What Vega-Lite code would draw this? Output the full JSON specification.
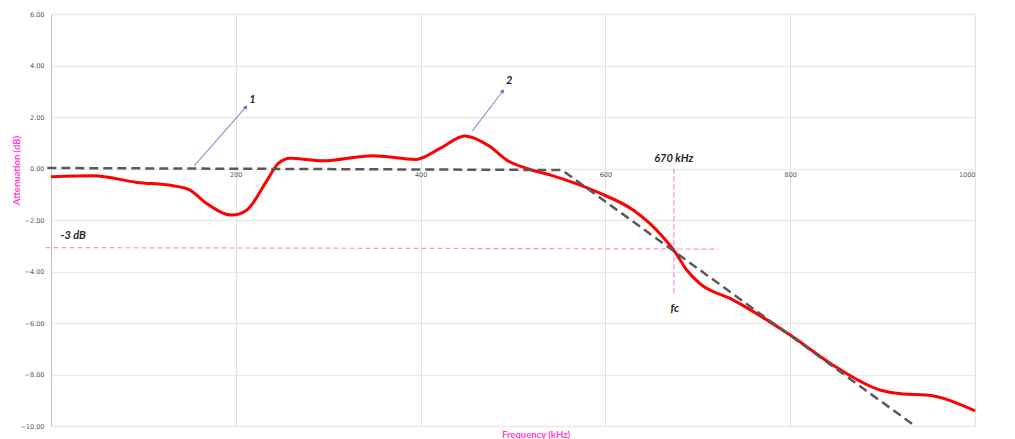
{
  "$schema": "https://vega.github.io/schema/vega-lite/v6.json",
  "width": 924,
  "height": 412,
  "autosize": {"type": "none"},
  "padding": {"left": 51, "top": 14, "right": 40, "bottom": 13},
  "background": "white",
  "config": {"view": {"stroke": null}},
  "datasets": {
    "response": [
      {"x": 0, "y": -0.32}, {"x": 46, "y": -0.28}, {"x": 93, "y": -0.54}, {"x": 132, "y": -0.67},
      {"x": 150, "y": -0.83}, {"x": 168, "y": -1.35}, {"x": 196, "y": -1.81}, {"x": 212, "y": -1.61},
      {"x": 233, "y": -0.51}, {"x": 246, "y": 0.2}, {"x": 259, "y": 0.4}, {"x": 294, "y": 0.3},
      {"x": 348, "y": 0.5}, {"x": 395, "y": 0.35}, {"x": 421, "y": 0.78}, {"x": 448, "y": 1.26},
      {"x": 475, "y": 0.85}, {"x": 493, "y": 0.33}, {"x": 515, "y": 0.0}, {"x": 540, "y": -0.25},
      {"x": 594, "y": -0.96}, {"x": 630, "y": -1.61}, {"x": 648, "y": -2.13}, {"x": 662, "y": -2.65},
      {"x": 674, "y": -3.17}, {"x": 688, "y": -3.94}, {"x": 702, "y": -4.46}, {"x": 738, "y": -5.1},
      {"x": 800, "y": -6.47}, {"x": 846, "y": -7.63}, {"x": 897, "y": -8.6},
      {"x": 920, "y": -8.75}, {"x": 948, "y": -8.8}, {"x": 1000, "y": -9.41}
    ],
    "asymptote": [{"x": -4, "y": 0.02}, {"x": 553, "y": -0.06}, {"x": 932, "y": -9.92}],
    "minus3": [{"x": -6, "y": -3.07}, {"x": 722, "y": -3.13}],
    "fcline": [{"x": 674, "y": 0}, {"x": 674, "y": -4.9}],
    "arrows": [
      {"x": 155, "y": 0.1, "x2": 211, "y2": 2.39},
      {"x": 456, "y": 1.46, "x2": 489, "y2": 3.01}
    ],
    "labels": [
      {"x": 24, "y": -2.62, "text": "-3 dB"},
      {"x": 674, "y": 0.37, "text": "670 kHz"},
      {"x": 675, "y": -5.46, "text": "fc"},
      {"x": 218, "y": 2.66, "text": "1"},
      {"x": 496, "y": 3.4, "text": "2"}
    ]
  },
  "encoding": {
    "x": {
      "field": "x", "type": "quantitative",
      "scale": {"domain": [0, 1000], "nice": false, "zero": false},
      "axis": {
        "title": "Frequency (kHz)",
        "values": [200, 400, 600, 800, 1000],
        "format": "d",
        "offset": -257.5,
        "domain": false, "ticks": false,
        "grid": true, "gridColor": "#e0e0e0", "gridWidth": 1,
        "labelFont": "DejaVu Sans", "labelFontSize": 6.5, "labelColor": "#595959", "labelPadding": 3,
        "titleFont": "Lato", "titleFontSize": 9.5, "titleFontWeight": "bold", "titleColor": "#FF3FCF",
        "titleX": 484.5, "titleY": 265.5, "titleBaseline": "middle", "titleAlign": "center"
      }
    },
    "y": {
      "field": "y", "type": "quantitative",
      "scale": {"domain": [-10, 6], "nice": false, "zero": false},
      "axis": {
        "title": "Attenuation (dB)",
        "values": [-10, -8, -6, -4, -2, 0, 2, 4, 6],
        "format": ".2f",
        "domain": true, "domainColor": "#bfbfbf", "domainWidth": 1,
        "ticks": false,
        "grid": true, "gridColor": "#ebebeb", "gridWidth": 1.5,
        "labelFont": "DejaVu Sans", "labelFontSize": 6.5, "labelColor": "#595959", "labelPadding": 7,
        "titleFont": "Lato", "titleFontSize": 9.5, "titleFontWeight": "bold", "titleColor": "#FF3FCF",
        "titleX": -35, "titleY": 156, "titleBaseline": "middle", "titleAlign": "center", "titleAngle": -90
      }
    }
  },
  "layer": [
    {
      "data": {"name": "minus3"},
      "mark": {"type": "line", "color": "#FF8FDB", "strokeWidth": 1.2, "strokeDash": [5, 3]}
    },
    {
      "data": {"name": "fcline"},
      "mark": {"type": "line", "color": "#FF8FDB", "strokeWidth": 1.2, "strokeDash": [5, 3]}
    },
    {
      "data": {"name": "response"},
      "mark": {"type": "line", "color": "#FF0000", "strokeWidth": 3, "interpolate": "monotone"}
    },
    {
      "data": {"name": "asymptote"},
      "mark": {"type": "line", "color": "#595959", "strokeWidth": 2.5, "strokeDash": [9, 5]}
    },
    {
      "data": {"name": "arrows"},
      "mark": {"type": "rule", "color": "#A887D8", "strokeWidth": 1.2},
      "encoding": {"x2": {"field": "x2"}, "y2": {"field": "y2"}}
    },
    {
      "data": {"name": "arrows"},
      "mark": {"type": "point", "shape": "triangle-up", "filled": true, "color": "#8A5CC8", "size": 22, "angle": 40, "opacity": 1},
      "encoding": {"x": {"field": "x2", "type": "quantitative"}, "y": {"field": "y2", "type": "quantitative"}}
    },
    {
      "data": {"name": "labels"},
      "mark": {"type": "text", "font": "Lato", "fontSize": 11, "fontWeight": "bold", "fontStyle": "italic", "color": "#262626", "align": "center", "baseline": "middle"},
      "encoding": {"text": {"field": "text"}}
    }
  ]
}
